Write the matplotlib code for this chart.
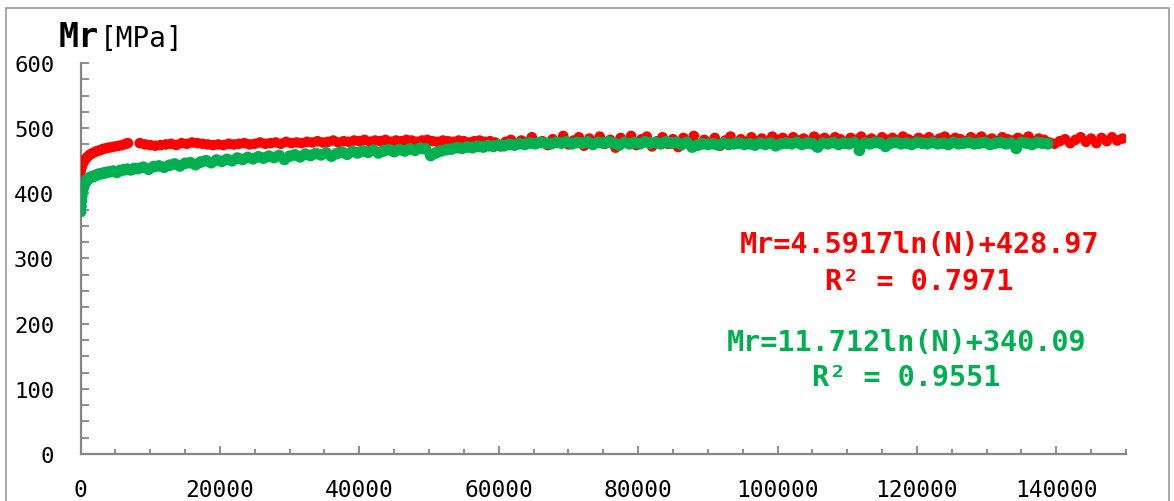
import matplotlib.pyplot as plt
from matplotlib.patches import Rectangle
from matplotlib.ticker import MultipleLocator
import numpy as np

plt.rcParams['font.family'] = ['DejaVu Sans Mono', 'DejaVu Sans']

RED = '#FF0000'
GREEN = '#00B050'
GREY = '#868686'

# red series: early cycles, then regular sampling after the short pause
red_n_early = [0, 150, 300, 500, 750, 1000, 1300, 1600, 2000, 2400,
               2800, 3200, 3600, 4000, 4500, 5000, 5500, 6000, 6500, 6800]
red_mr_early = [433, 440, 445, 449, 453, 456, 459, 461, 463, 465,
                466, 468, 469, 470, 471, 472, 473, 474, 476, 477]
red_n_main = np.arange(8500, 149501, 750)
red_mr_main = [
    477, 475, 474, 473, 474, 475, 476, 474, 477, 476,
    478, 477, 476, 475, 474, 475, 474, 476, 475, 476,
    477, 475, 476, 478, 476, 477, 478, 476, 479, 477,
    478, 477, 479, 478, 480, 478, 479, 481, 478, 480,
    479, 481, 480, 482, 479, 481, 480, 482, 479, 481,
    480, 482, 481, 479, 481, 482, 480, 479, 481, 480,
    479, 481, 480, 478, 480, 481, 479, 480, 478, 472,
    479, 482, 476, 481, 478, 486, 477, 480, 474, 483,
    478, 488, 475, 481, 486, 473, 484, 479, 487, 476,
    482, 470, 485, 478, 488, 474, 483, 487, 472, 480,
    486, 476, 483, 471, 485, 479, 488, 474, 482, 477,
    485, 473, 481, 487, 476, 483, 478, 486, 480, 484,
    479, 487, 482, 485, 480, 486, 481, 484, 479, 487,
    482, 485, 480, 486, 483, 479, 485, 482, 487, 481,
    484, 480, 486, 482, 485, 481, 487, 483, 480, 485,
    482, 486, 480, 484, 487, 481, 485, 483, 480, 486,
    482, 487, 481, 484, 480, 486, 483, 481, 485, 482,
    487, 480, 484, 482, 478, 476, 480, 483, 477, 482,
    486, 479, 484, 477, 485, 480, 486, 481, 484,
]

# green series
green_n_early = [0, 50, 100, 150, 200, 300, 400, 500, 650, 800,
                 1000, 1200, 1500, 1800, 2100, 2500, 2900, 3300, 3700, 4200,
                 4700, 5200, 5700, 6200, 6700, 7200, 7700]
green_mr_early = [372, 380, 388, 395, 400, 405, 410, 413, 416, 419,
                  421, 423, 425, 426, 427, 429, 430, 431, 432, 433,
                  434, 432, 435, 436, 437, 436, 438]
green_n_main = np.arange(8250, 138751, 750)
green_mr_main = [
    438, 440, 437, 441, 442, 440, 443, 445, 442, 446,
    447, 444, 448, 450, 447, 451, 449, 452, 450, 454,
    452, 455, 453, 456, 454, 457, 455, 458, 452, 457,
    459, 456, 460, 458, 461, 459, 462, 457, 461, 463,
    460, 464, 462, 465, 463, 466, 462, 465, 467, 464,
    467, 465, 468, 466, 469, 468, 458, 462, 465, 467,
    468, 470, 469, 471, 470, 472, 471, 473, 472, 474,
    473, 475, 474, 476, 475, 477, 476, 478, 477, 476,
    478, 477, 479, 476, 478, 477, 479, 475, 478, 477,
    479, 477, 474, 478, 476, 478, 476, 479, 477, 478,
    476, 479, 477, 478, 475, 478, 471, 474, 476, 475,
    476, 474, 477, 475, 476, 477, 475, 476, 474, 477,
    475, 477, 473, 476, 477, 476, 478, 475, 477, 476,
    471, 477, 476, 478, 475, 477, 476, 478, 466, 477,
    476, 478, 477, 472, 477, 478, 476, 477, 475, 478,
    477, 476, 478, 476, 477, 475, 478, 476, 477, 478,
    476, 477, 478, 475, 477, 478, 476, 477, 469, 478,
    477, 475, 478, 477, 476,
]

red_n = np.concatenate([red_n_early, red_n_main])
red_mr = np.concatenate([red_mr_early, red_mr_main])
green_n = np.concatenate([green_n_early, green_n_main])
green_mr = np.concatenate([green_mr_early, green_mr_main])

fig = plt.figure(figsize=(11.74, 5.02), dpi=100)
ax = fig.add_axes([0.0686, 0.0936, 0.8905, 0.779])

ax.scatter(red_n, red_mr, s=58, color=RED, edgecolors='none', zorder=3)
ax.scatter(green_n, green_mr, s=72, color=GREEN, edgecolors='none', zorder=4)

ax.set_xlim(0, 150000)
ax.set_ylim(0, 600)
ax.xaxis.set_major_locator(MultipleLocator(20000))
ax.xaxis.set_minor_locator(MultipleLocator(5000))
ax.yaxis.set_major_locator(MultipleLocator(100))
ax.yaxis.set_minor_locator(MultipleLocator(25))

for side in ['top', 'right']:
    ax.spines[side].set_visible(False)
for side in ['left', 'bottom']:
    ax.spines[side].set_color(GREY)
    ax.spines[side].set_linewidth(1.6)

ax.tick_params(axis='both', which='both', direction='in', color=GREY, width=1.3)
ax.tick_params(axis='x', which='major', length=6, pad=17, labelsize=16.5)
ax.tick_params(axis='x', which='minor', length=3.8)
ax.tick_params(axis='y', which='major', length=5.5, pad=19, labelsize=16)
ax.tick_params(axis='y', which='minor', length=5.5)

# axis title above the y axis
fig.text(59 / 1174, 1 - 47 / 502, 'Mr', fontsize=24, fontweight='bold',
         ha='left', va='baseline')
fig.text(100 / 1174, 1 - 47 / 502, '[MPa]', fontsize=20,
         ha='left', va='baseline')

# trend line equations
ax.text(120400, 322, 'Mr=4.5917ln(N)+428.97', color=RED, fontsize=20.5,
        fontweight='bold', ha='center', va='center')
ax.text(120400, 265, 'R² = 0.7971', color=RED, fontsize=20.5,
        fontweight='bold', ha='center', va='center')
ax.text(118500, 172, 'Mr=11.712ln(N)+340.09', color=GREEN, fontsize=20.5,
        fontweight='bold', ha='center', va='center')
ax.text(118500, 118, 'R² = 0.9551', color=GREEN, fontsize=20.5,
        fontweight='bold', ha='center', va='center')

# chart area frame
fig.patches.append(Rectangle((6 / 1174, -0.1), 1163 / 1174, 1.1 - 9 / 502,
                             transform=fig.transFigure, fill=False,
                             edgecolor='#999999', linewidth=1.2))

fig.savefig('out.png', dpi=100)
